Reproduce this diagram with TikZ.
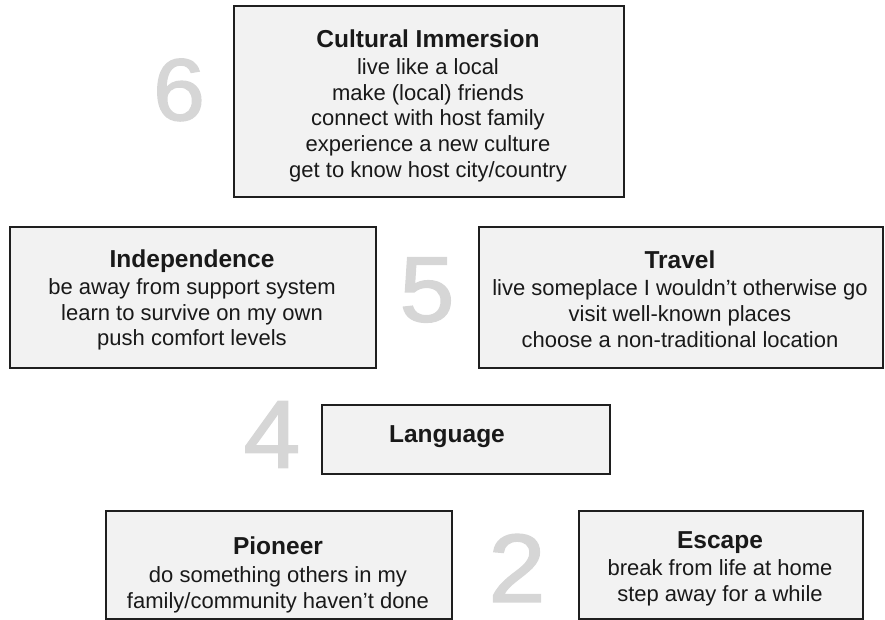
\documentclass[tikz,border=0pt]{standalone}
\usepackage{fontspec}
\setmainfont{Liberation Sans}
\newfontfamily\numfont[FakeBold=1.6]{Liberation Sans}
\newcommand{\ttl}[1]{{\fontsize{24.5}{25.6}\selectfont\bfseries #1}}
\begin{document}
\begin{tikzpicture}[x=1pt,y=-1pt,
  box/.style={draw=black!88,line width=1.8pt,fill=black!5,inner sep=0pt,anchor=north west},
  txt/.style={align=center,font=\fontsize{22}{25.6}\selectfont,text=black!90,inner sep=0pt},
  num/.style={text=black!16,inner sep=0pt,text depth=0pt,xscale=1.06}]
\useasboundingbox (0,0) rectangle (885,620);
% boxes
\node[box,minimum width=390pt,minimum height=191pt] (cult) at (233,5) {};
\node[box,minimum width=366pt,minimum height=141pt] (ind) at (9,226) {};
\node[box,minimum width=404pt,minimum height=141pt] (trav) at (478,226) {};
\node[box,minimum width=288pt,minimum height=69pt] (lang) at (321,404) {};
\node[box,minimum width=346pt,minimum height=108pt] (pion) at (105,510) {};
\node[box,minimum width=284pt,minimum height=108pt] (esc) at (578,510) {};
% texts
\node[txt] (cultt) at (428,105.5) {\ttl{Cultural Immersion}\\[2pt]live like a local\\make (local) friends\\connect with host family\\experience a new culture\\get to know host city/country};
\node[txt] (indt) at (192,300) {\ttl{Independence}\\[2pt]be away from support system\\learn to survive on my own\\push comfort levels};
\node[txt] (travt) at (680,299) {\ttl{Travel}\\[2pt]live someplace I wouldn’t otherwise go\\visit well-known places\\choose a non-traditional location};
\node[txt] (langt) at (447,437) {\ttl{Language}};
\node[txt] (piont) at (278,575) {\ttl{Pioneer}\\[2pt]do something others in my\\family/community haven’t done};
\node[txt] (esct) at (720,568.5) {\ttl{Escape}\\[2pt]break from life at home\\step away for a while};
% numbers
\node[num,font=\numfont\fontsize{88}{88}\selectfont] (n6) at (179,89.5) {6};
\node[num,font=\numfont\fontsize{93}{93}\selectfont] (n5) at (427,289.5) {5};
\node[num,font=\numfont\fontsize{96}{96}\selectfont] (n4) at (272,434.5) {4};
\node[num,font=\numfont\fontsize{97}{97}\selectfont] (n2) at (517,568) {2};
\end{tikzpicture}
\end{document}
